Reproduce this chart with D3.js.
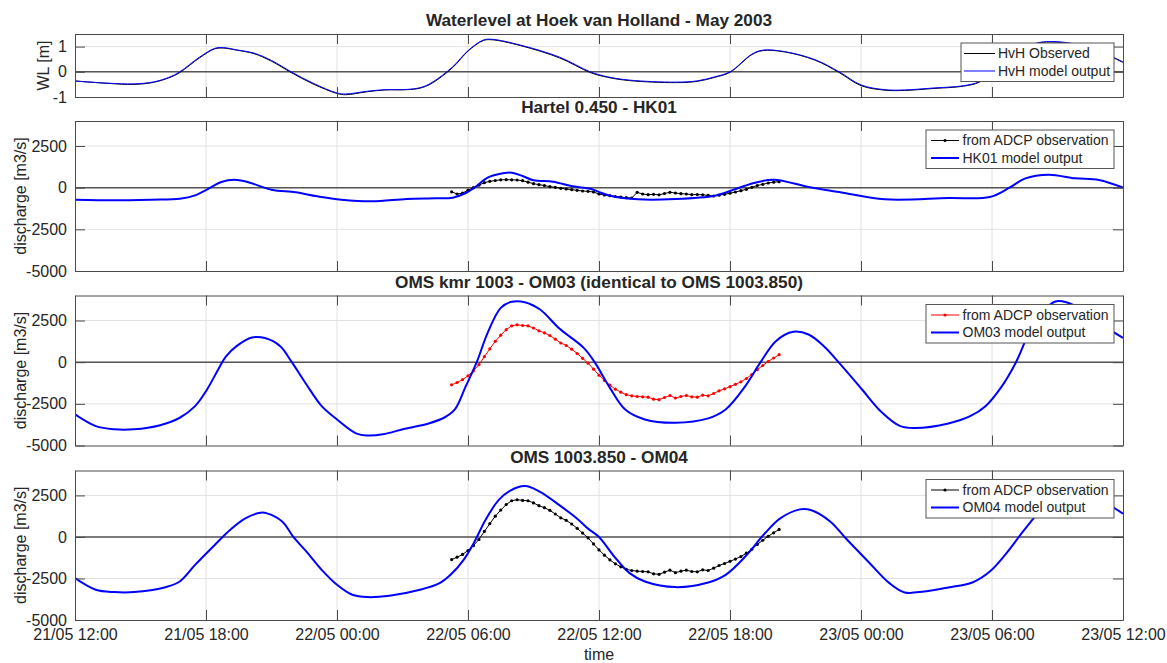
<!DOCTYPE html>
<html>
<head>
<meta charset="utf-8">
<script src="https://cdn.jsdelivr.net/npm/d3@7"></script>
<style>
  body { margin: 0; background: #fff; }
  text { font-family: "Liberation Sans", Arial, sans-serif; fill: #262626; }
</style>
</head>
<body>
<svg width="1167" height="663"></svg>
<script>
// time axis: hours after 21/05/2003 12:00
const t0 = new Date(2003, 4, 21, 12);
const tickHours = [0, 6, 12, 18, 24, 30, 36, 42, 48];

// --- Hoek van Holland water level [m]
const wlHours = [0, 1.5, 2.7, 3.6, 4.3, 4.8, 5.7, 6.4, 6.8, 7.4, 8.2, 9.0, 9.9, 10.9, 12.0, 12.4, 13.4, 14.2, 15.2, 15.8, 16.3, 17.3, 18.0, 18.7, 19.1, 20.4, 22.2, 23.6, 24.4, 25.4, 27.5, 28.5, 29.3, 30.0, 31.0, 31.5, 32.5, 33.9, 35.0, 36.0, 37.1, 38.0, 39.2, 40.7, 41.4, 42.1, 42.9, 43.6, 44.2, 44.8, 45.5, 46.3, 47.2, 48.0];
const wlModel = [-0.37, -0.45, -0.48, -0.40, -0.22, 0, 0.58, 0.93, 0.96, 0.87, 0.74, 0.45, 0, -0.45, -0.84, -0.88, -0.77, -0.71, -0.70, -0.63, -0.45, 0.2, 0.84, 1.26, 1.29, 1.06, 0.58, 0, -0.2, -0.33, -0.41, -0.36, -0.2, 0, 0.7, 0.86, 0.8, 0.48, 0, -0.52, -0.71, -0.72, -0.65, -0.55, -0.4, 0, 0.6, 1.0, 1.17, 1.2, 1.15, 1.0, 0.72, 0.39];
const wlObserved = [-0.36, -0.46, -0.50, -0.42, -0.24, -0.03, 0.55, 0.91, 0.94, 0.86, 0.72, 0.42, -0.03, -0.48, -0.86, -0.91, -0.79, -0.72, -0.71, -0.65, -0.48, 0.17, 0.82, 1.24, 1.27, 1.04, 0.55, -0.03, -0.22, -0.35, -0.43, -0.38, -0.22, -0.02, 0.68, 0.84, 0.79, 0.46, -0.03, -0.55, -0.73, -0.74, -0.67, -0.57, -0.42, -0.02, 0.58, 0.98, 1.15, 1.18, 1.13, 0.98, 0.70, 0.37];

// --- Hartel 0.450 HK01 model discharge [m3/s]
const hkHours = [0, 1.8, 3.5, 4.8, 5.5, 6.2, 6.7, 7.3, 7.9, 9.0, 10.1, 11.1, 12.2, 13.6, 15.2, 16.5, 17.3, 17.9, 18.3, 18.9, 19.6, 20.0, 20.5, 21.0, 21.9, 22.8, 23.6, 24.0, 24.5, 25.8, 27.5, 29.3, 30.0, 31.1, 32.0, 33.6, 35.0, 37.1, 40.0, 41.9, 42.8, 43.5, 44.6, 45.8, 46.9, 48.0];
const hkModel = [-720, -760, -720, -660, -460, 0, 340, 480, 340, -120, -280, -520, -720, -820, -680, -640, -600, -320, 0, 600, 860, 900, 700, 440, 360, 80, -60, -260, -480, -700, -680, -480, -200, 280, 480, 40, -260, -700, -620, -560, 0, 540, 780, 560, 460, 0];

// --- OMS kmr 1003 OM03 model discharge
const om3Hours = [0, 0.95, 1.8, 2.7, 3.9, 4.8, 5.5, 6.0, 6.56, 6.9, 7.4, 8.1, 8.7, 9.4, 9.9, 10.6, 11.3, 12.0, 12.9, 13.4, 14.1, 15.1, 16.2, 16.9, 17.4, 17.9, 18.4, 18.9, 19.5, 20.0, 20.6, 21.3, 22.2, 23.3, 23.8, 24.5, 25.2, 26.1, 27.5, 29.0, 29.8, 30.7, 31.4, 32.1, 32.9, 33.6, 34.3, 35.0, 36.05, 36.9, 37.8, 38.5, 40.0, 41.0, 41.7, 42.4, 43.1, 43.7, 44.3, 44.9, 45.4, 46.2, 47.0, 48.0];
const om3Model = [-3135, -3840, -4030, -4030, -3780, -3335, -2640, -1740, -440, 320, 960, 1480, 1450, 960, 60, -1340, -2640, -3435, -4290, -4400, -4330, -3995, -3675, -3335, -2835, -1440, 0, 1760, 3260, 3620, 3600, 3160, 2000, 860, 0, -1540, -2840, -3435, -3635, -3375, -2840, -1440, 0, 1260, 1820, 1660, 960, -40, -1640, -2940, -3840, -3950, -3675, -3240, -2640, -1540, 0, 1760, 3000, 3640, 3600, 3100, 2300, 1450];

// --- OMS 1003.850 OM04 model discharge
const om4Hours = [0, 0.95, 1.8, 2.7, 4.1, 4.8, 5.5, 6.4, 7.1, 7.8, 8.5, 8.8, 9.5, 10.0, 10.6, 11.3, 12.0, 12.7, 13.4, 14.4, 15.8, 16.7, 17.2, 17.8, 18.3, 18.8, 19.4, 19.9, 20.6, 21.3, 22.2, 23.0, 23.5, 24.0, 24.7, 25.4, 26.1, 27.5, 29.0, 29.8, 30.7, 31.6, 32.3, 33.2, 33.7, 34.6, 35.3, 36.4, 37.3, 38.0, 38.9, 40.0, 41.1, 41.9, 42.6, 43.3, 43.9, 44.6, 45.2, 45.8, 46.6, 47.3, 48.0];
const om4Model = [-2480, -3180, -3320, -3320, -3040, -2680, -1680, -480, 420, 1120, 1460, 1420, 920, 0, -880, -1980, -2880, -3480, -3620, -3540, -3180, -2780, -2280, -1380, -280, 1020, 2220, 2760, 3060, 2720, 1900, 1100, 500, 0, -1180, -2180, -2680, -3020, -2740, -2280, -1180, 220, 1120, 1660, 1620, 920, -80, -1580, -2780, -3340, -3280, -3040, -2740, -2080, -1080, 120, 1120, 2200, 2900, 3000, 2600, 2000, 1400];

// --- ADCP observations, every 15 min from 22/05 05:15 to 20:15
const obsHours = d3.range(17.25, 32.26, 0.25);
const hkObs = [-250, -380, -330, -150, 0, 150, 300, 380, 430, 470, 480, 470, 460, 420, 330, 240, 180, 130, 60, 20, -40, -80, -120, -160, -200, -220, -260, -380, -440, -480, -530, -560, -600, -620, -280, -380, -420, -400, -430, -350, -280, -320, -360, -380, -420, -410, -430, -460, -500, -450, -400, -330, -260, -180, -100, 20, 130, 200, 280, 330, 360];
const omsObs = [-1360, -1220, -1050, -820, -520, -150, 330, 800, 1250, 1620, 1950, 2180, 2240, 2200, 2180, 2050, 1880, 1760, 1600, 1380, 1150, 1000, 780, 520, 230, -60, -420, -780, -1100, -1380, -1620, -1800, -1950, -2020, -2060, -2080, -2100, -2220, -2250, -2120, -2000, -2150, -2060, -2000, -2080, -2100, -1980, -2020, -1880, -1720, -1600, -1470, -1330, -1180, -980, -740, -450, -200, 40, 250, 450];

const toDate = h => new Date(t0.getTime() + h * 3600e3);
const zip = (hs, vs) => hs.map((h, i) => ({ t: toDate(h), v: vs[i] }));

const panels = [
  { top: 34, bottom: 97, domain: [-1, 1.5], ticks: [-1, 0, 1], ylabel: "WL [m]", ylabelX: 43,
    title: "Waterlevel at Hoek van Holland - May 2003",
    series: [
      { name: "HvH Observed", data: zip(wlHours, wlObserved), color: "#000", width: 1, marker: false },
      { name: "HvH model output", data: zip(wlHours, wlModel), color: "#0000ff", width: 1, marker: false }
    ],
    legend: { x: 961, w: 153, lineX: [964, 995], textX: 998 } },
  { top: 121, bottom: 271, domain: [-5000, 4000], ticks: [-5000, -2500, 0, 2500], ylabel: "discharge [m3/s]", ylabelX: 20,
    title: "Hartel 0.450 - HK01",
    series: [
      { name: "from ADCP observation", data: zip(obsHours, hkObs), color: "#000", width: 1, marker: true },
      { name: "HK01 model output", data: zip(hkHours, hkModel), color: "#0000ff", width: 2, marker: false }
    ],
    legend: { x: 926, w: 188, lineX: [931, 959], textX: 962.5 } },
  { top: 295.5, bottom: 445.5, domain: [-5000, 4000], ticks: [-5000, -2500, 0, 2500], ylabel: "discharge [m3/s]", ylabelX: 20,
    title: "OMS kmr 1003 - OM03 (identical to OMS 1003.850)",
    series: [
      { name: "from ADCP observation", data: zip(obsHours, omsObs), color: "#ff0000", width: 1, marker: true },
      { name: "OM03 model output", data: zip(om3Hours, om3Model), color: "#0000ff", width: 2, marker: false }
    ],
    legend: { x: 926, w: 188, lineX: [931, 959], textX: 962.5 } },
  { top: 470.5, bottom: 620, domain: [-5000, 4000], ticks: [-5000, -2500, 0, 2500], ylabel: "discharge [m3/s]", ylabelX: 20,
    title: "OMS 1003.850 - OM04",
    series: [
      { name: "from ADCP observation", data: zip(obsHours, omsObs), color: "#000", width: 1, marker: true },
      { name: "OM04 model output", data: zip(om4Hours, om4Model), color: "#0000ff", width: 2, marker: false }
    ],
    legend: { x: 926, w: 188, lineX: [931, 959], textX: 962.5 } }
];

const svg = d3.select("svg");
const left = 75, right = 1123;
const x = d3.scaleTime().domain([toDate(0), toDate(48)]).range([left, right]);
const xTicks = tickHours.map(toDate);
const fmt = d3.timeFormat("%d/%m %H:%M");

panels.forEach((p, i) => {
  const y = d3.scaleLinear().domain(p.domain).range([p.bottom, p.top]);
  const g = svg.append("g");

  g.append("clipPath").attr("id", "clip" + i)
    .append("rect").attr("x", left).attr("y", p.top).attr("width", right - left).attr("height", p.bottom - p.top);

  // grid
  g.selectAll(".gx").data(xTicks.slice(1, -1)).join("line")
    .attr("x1", d => x(d)).attr("x2", d => x(d)).attr("y1", p.top).attr("y2", p.bottom)
    .attr("stroke", "#e2e2e2").attr("stroke-width", 1);
  g.selectAll(".gy").data(p.ticks.filter(t => t > p.domain[0])).join("line")
    .attr("x1", left).attr("x2", right).attr("y1", d => y(d)).attr("y2", d => y(d))
    .attr("stroke", "#e2e2e2").attr("stroke-width", 1);

  // zero line
  g.append("line").attr("x1", left).attr("x2", right).attr("y1", y(0)).attr("y2", y(0))
    .attr("stroke", "#555").attr("stroke-width", 1.5);

  const plot = g.append("g").attr("clip-path", `url(#clip${i})`);
  const line = d3.line().x(d => x(d.t)).y(d => y(d.v)).curve(d3.curveCatmullRom.alpha(0.5));
  const obsLine = d3.line().x(d => x(d.t)).y(d => y(d.v));
  p.series.forEach(s => {
    plot.append("path").datum(s.data)
      .attr("d", s.marker ? obsLine : line)
      .attr("fill", "none").attr("stroke", s.color).attr("stroke-width", s.width);
    if (s.marker) {
      plot.selectAll(null).data(s.data).join("circle")
        .attr("cx", d => x(d.t)).attr("cy", d => y(d.v)).attr("r", 1.6)
        .attr("fill", s.color);
    }
  });

  // axes (inward ticks on all four sides)
  const axStyle = a => {
    a.selectAll("path, line").attr("stroke", "#4a4a4a");
    a.selectAll("text").attr("font-size", 16).attr("fill", "#262626").attr("font-family", "Liberation Sans, Arial, sans-serif");
  };
  g.append("g").attr("transform", `translate(${left},0)`)
    .call(d3.axisLeft(y).tickValues(p.ticks).tickSize(-10).tickSizeOuter(0).tickPadding(8).tickFormat(d => String(d)))
    .call(axStyle);
  g.append("g").attr("transform", `translate(${right},0)`)
    .call(d3.axisRight(y).tickValues(p.ticks).tickSize(-10).tickSizeOuter(0).tickFormat(""))
    .call(axStyle);
  g.append("g").attr("transform", `translate(0,${p.top})`)
    .call(d3.axisTop(x).tickValues(xTicks).tickSize(-10).tickSizeOuter(0).tickFormat(""))
    .call(axStyle);
  g.append("g").attr("transform", `translate(0,${p.bottom})`)
    .call(d3.axisBottom(x).tickValues(xTicks).tickSize(-10).tickSizeOuter(0).tickPadding(9)
      .tickFormat(i === panels.length - 1 ? fmt : ""))
    .call(axStyle);

  // title and y label
  g.append("text").attr("x", (left + right) / 2).attr("y", p.top - 8)
    .attr("text-anchor", "middle").attr("font-size", 17.2).attr("font-weight", "bold")
    .attr("fill", "#000").text(p.title);
  g.append("text").attr("transform", `translate(${p.ylabelX},${(p.top + p.bottom) / 2}) rotate(-90)`)
    .attr("dy", "0.35em").attr("text-anchor", "middle").attr("font-size", 16).text(p.ylabel);

  // legend
  const lg = p.legend, lt = p.top + 9;
  const leg = g.append("g");
  leg.append("rect").attr("x", lg.x).attr("y", lt).attr("width", lg.w).attr("height", 38.5)
    .attr("fill", "#fff").attr("stroke", "#555").attr("stroke-width", 1);
  p.series.forEach((s, k) => {
    const ry = lt + 10.5 + k * 17.5;
    leg.append("line").attr("x1", lg.lineX[0]).attr("x2", lg.lineX[1]).attr("y1", ry).attr("y2", ry)
      .attr("stroke", s.color).attr("stroke-width", s.width);
    if (s.marker) {
      leg.append("circle").attr("cx", (lg.lineX[0] + lg.lineX[1]) / 2).attr("cy", ry).attr("r", 1.6).attr("fill", s.color);
    }
    leg.append("text").attr("x", lg.textX).attr("y", ry).attr("dy", "0.35em")
      .attr("font-size", 14).attr("fill", "#000").text(s.name);
  });
});

svg.append("text").attr("x", (left + right) / 2).attr("y", 660)
  .attr("text-anchor", "middle").attr("font-size", 16).text("time");
</script>
</body>
</html>
